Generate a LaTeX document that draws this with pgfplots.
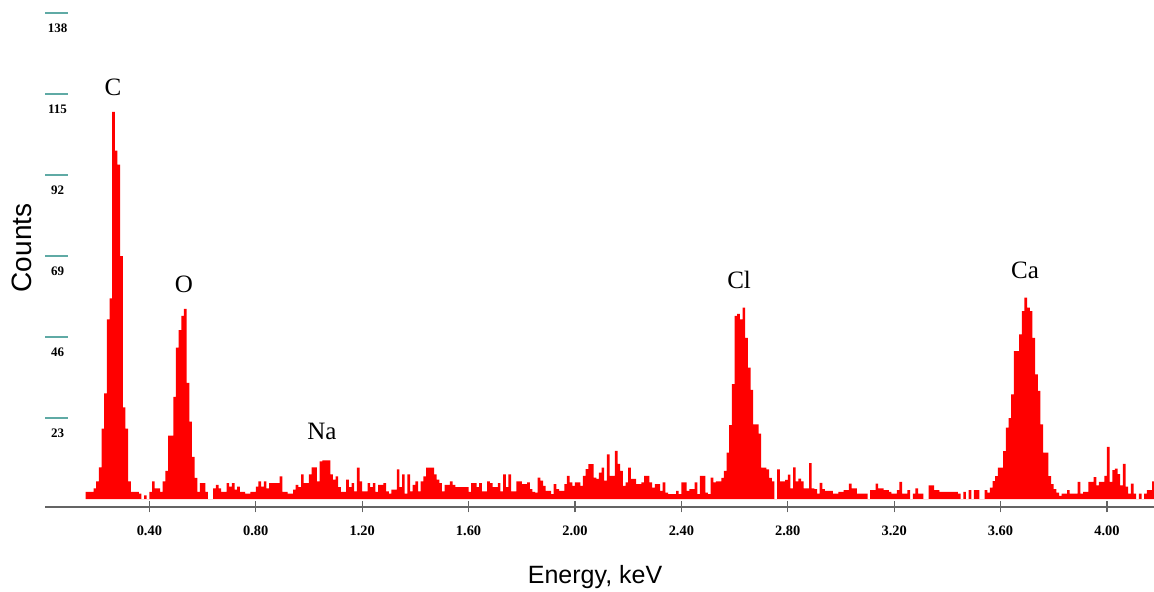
\documentclass[border=0pt]{standalone}
\usepackage{fontspec}
\setmainfont{Liberation Serif}
\setsansfont{Liberation Sans}
\usepackage{pgfplots}
\usepackage{pgfplotstable}
\pgfplotsset{compat=1.18}
\definecolor{tealtick}{RGB}{95,170,165}
\definecolor{axgray}{RGB}{100,100,100}
\pgfplotstableread{
E c
0.16 2
0.17 2
0.18 2
0.19 3
0.20 5
0.21 9
0.22 20
0.23 30
0.24 51
0.25 57
0.26 110
0.27 99
0.28 95
0.29 69
0.30 26
0.31 20
0.32 5
0.33 2
0.34 2
0.35 2
0.36 1.5
0.37 0
0.38 1
0.39 0
0.40 2
0.41 5
0.42 3
0.43 3
0.44 2
0.45 5
0.46 8
0.47 18
0.48 18
0.49 29
0.50 43
0.51 48
0.52 52
0.53 54
0.54 33
0.55 22
0.56 12
0.57 6
0.58 2
0.59 4.5
0.60 4.5
0.61 2
0.62 0
0.63 0
0.64 3
0.65 4
0.66 3
0.67 2
0.68 2
0.69 4.5
0.70 3.5
0.71 4.5
0.72 2.7
0.73 3.5
0.74 2
0.75 2
0.76 1.5
0.77 1.5
0.78 2
0.79 2
0.80 3.5
0.81 5
0.82 3.5
0.83 5
0.84 3
0.85 4.5
0.86 4.5
0.87 4.5
0.88 4.5
0.89 6.4
0.90 2
0.91 2
0.92 1.5
0.93 1.5
0.94 2.7
0.95 4
0.96 3.4
0.97 7
0.98 4.5
0.99 4.5
1.00 7
1.01 9
1.02 9
1.03 5
1.04 10.7
1.05 11
1.06 11
1.07 11
1.08 7
1.09 5.5
1.10 6.4
1.11 3.4
1.12 2
1.13 2
1.14 5.5
1.15 3.4
1.16 4.5
1.17 2.2
1.18 8.9
1.19 5
1.20 2.2
1.21 2.2
1.22 4.5
1.23 3.4
1.24 4.5
1.25 2
1.26 4
1.27 4
1.28 4.5
1.29 2.2
1.30 1.5
1.31 2.7
1.32 2.7
1.33 8.4
1.34 3.4
1.35 7
1.36 1.5
1.37 7
1.38 2.2
1.39 4
1.40 5
1.41 2.2
1.42 5
1.43 6.4
1.44 8.9
1.45 8.9
1.46 8.9
1.47 7
1.48 5.5
1.49 4.5
1.50 2.2
1.51 4
1.52 4
1.53 5
1.54 4
1.55 3.4
1.56 3.4
1.57 3.4
1.58 3.4
1.59 3.4
1.60 2
1.61 4.5
1.62 4.5
1.63 3.4
1.64 4.5
1.65 2.2
1.66 2.2
1.67 5
1.68 4.5
1.69 3.4
1.70 3.4
1.71 4.5
1.72 2.2
1.73 7
1.74 3.4
1.75 7
1.76 2.2
1.77 2.2
1.78 5
1.79 5
1.80 4.2
1.81 4.2
1.82 4.7
1.83 2.8
1.84 2
1.85 1.8
1.86 6.1
1.87 5.2
1.88 3.7
1.89 2.3
1.90 2.3
1.91 1.4
1.92 4.2
1.93 2.8
1.94 2.3
1.95 2.3
1.96 4.2
1.97 6.6
1.98 4.7
1.99 3.7
2.00 4.7
2.01 4.7
2.02 3.7
2.03 6.6
2.04 8.5
2.05 9.9
2.06 9.9
2.07 6.1
2.08 5.7
2.09 7.5
2.10 8.9
2.11 5.2
2.12 12.7
2.13 6.6
2.14 6.6
2.15 13.7
2.16 10
2.17 8
2.18 3.7
2.19 4.7
2.20 8.9
2.21 5.7
2.22 5.7
2.23 4.2
2.24 4.2
2.25 4.7
2.26 6.6
2.27 6.6
2.28 4.7
2.29 3.2
2.30 4.2
2.31 4.2
2.32 2.3
2.33 4.7
2.34 1.8
2.35 1.4
2.36 1.4
2.37 1.4
2.38 2.3
2.39 1.4
2.40 4.7
2.41 4.7
2.42 2.3
2.43 2.8
2.44 2.8
2.45 4.7
2.46 1.4
2.47 6.6
2.48 6.6
2.49 1.8
2.50 1.4
2.51 6.1
2.52 4.7
2.53 5
2.54 5
2.55 6
2.56 8
2.57 13.2
2.58 21
2.59 32.6
2.60 52
2.61 52.6
2.62 51
2.63 54.4
2.64 45.8
2.65 37.3
2.66 31
2.67 21.2
2.68 21.2
2.69 18.6
2.70 8.9
2.71 8.9
2.72 8.4
2.73 6
2.74 5
2.75 0
2.76 8.4
2.77 5
2.78 5
2.79 5.4
2.80 6.9
2.81 3
2.82 9
2.83 5
2.84 5.8
2.85 5
2.86 3
2.87 3
2.88 10.2
2.89 3
2.90 2.8
2.91 1.5
2.92 4.6
2.93 2.8
2.94 2.3
2.95 2.3
2.96 2.3
2.97 1.5
2.98 1.5
2.99 2
3.00 2
3.01 2.5
3.02 2.5
3.03 4.4
3.04 3
3.05 3
3.06 1.5
3.07 1.5
3.08 1.5
3.09 1.5
3.10 0
3.11 2.5
3.12 2.5
3.13 4.4
3.14 3
3.15 3
3.16 2.5
3.17 2.5
3.18 2
3.19 1.5
3.20 1.5
3.21 2.5
3.22 4.9
3.23 1.5
3.24 1.5
3.25 2.5
3.26 0
3.27 1.5
3.28 3
3.29 1.5
3.30 1.5
3.31 0
3.32 0
3.33 3.9
3.34 3.9
3.35 2.5
3.36 2.5
3.37 2
3.38 2
3.39 2
3.40 2
3.41 2
3.42 2
3.43 2
3.44 1.5
3.45 0
3.46 2
3.47 0
3.48 2.5
3.49 0
3.50 2.5
3.51 2.5
3.52 0
3.53 0
3.54 2.5
3.55 1.8
3.56 3.2
3.57 5.1
3.58 6.5
3.59 8.9
3.60 8.9
3.61 13.6
3.62 20.3
3.63 23
3.64 29.7
3.65 42
3.66 42
3.67 46.8
3.68 53.4
3.69 57.2
3.70 54.4
3.71 53.4
3.72 45.8
3.73 35.4
3.74 30.7
3.75 21.2
3.76 13.2
3.77 13.2
3.78 6.5
3.79 4.2
3.80 2.8
3.81 1.8
3.82 0.9
3.83 1.5
3.84 1.5
3.85 2.5
3.86 1.5
3.87 1.5
3.88 1.5
3.89 4.9
3.90 1.5
3.91 2
3.92 2
3.93 4.9
3.94 4.9
3.95 6.2
3.96 3.9
3.97 4.9
3.98 4.9
3.99 6.6
4.00 14.8
4.01 4.9
4.02 8.2
4.03 8.6
4.04 7.1
4.05 3.9
4.06 10
4.07 3.5
4.08 1.5
4.09 4.4
4.10 1.5
4.11 0
4.12 1.5
4.13 0
4.14 1.5
4.15 2.5
4.16 2.5
4.17 5
4.18 5
}\spectrum
\begin{document}
\begin{tikzpicture}
\begin{axis}[
  name=ax,
  scale only axis,
  width=554.5pt, height=253.5pt,
  xmin=0.0075, xmax=4.177,
  ymin=-2.27, ymax=141.76,
  axis x line*=bottom,
  axis y line*=left,
  x axis line style={draw=axgray, line width=0.6pt, -},
  y axis line style={draw=none},
  xtick={0.4,0.8,1.2,1.6,2.0,2.4,2.8,3.2,3.6,4.0},
  xticklabels={0.40,0.80,1.20,1.60,2.00,2.40,2.80,3.20,3.60,4.00},
  xtick align=center,
  xtick style={draw=axgray, line width=0.6pt, /pgfplots/major tick length=5.5pt},
  ytick={23,46,69,92,115,138},
  yticklabels={23,46,69,92,115,138},
  ytick align=inside,
  ytick style={draw=tealtick, line width=1pt, /pgfplots/major tick length=11.5pt},
  xticklabel style={font=\bfseries\fontsize{7.2}{8}\selectfont, anchor=center, yshift=-10pt},
  yticklabel style={font=\bfseries\fontsize{6.5}{7}\selectfont, anchor=north, xshift=6.25pt, yshift=-2pt},
  xlabel={Energy, keV},
  ylabel={Counts},
  xlabel style={font=\sffamily\fontsize{12.5}{14}\selectfont, at={(axis description cs:0.496,0)}, anchor=center, yshift=-35pt},
  ylabel style={font=\sffamily\fontsize{14}{16}\selectfont, at={(axis description cs:-0.0207,0.511)}, anchor=center, rotate=0},
  clip=false,
]
\addplot[const plot mark left, fill=red, draw=none] table[x=E, y=c] {\spectrum} \closedcycle;
\node[font=\fontsize{12.5}{13}\selectfont] at (axis cs:0.263,117) {C};
\node[font=\fontsize{12.5}{13}\selectfont] at (axis cs:0.530,61) {O};
\node[font=\fontsize{12.5}{13}\selectfont] at (axis cs:1.049,19.3) {Na};
\node[font=\fontsize{12.5}{13}\selectfont] at (axis cs:2.617,62.2) {Cl};
\node[font=\fontsize{12.5}{13}\selectfont] at (axis cs:3.692,65) {Ca};
\end{axis}
\pgfresetboundingbox
\path (ax.south west) ++(-22.5pt,-42.5pt) rectangle ++(577pt,296pt);
\end{tikzpicture}
\end{document}
